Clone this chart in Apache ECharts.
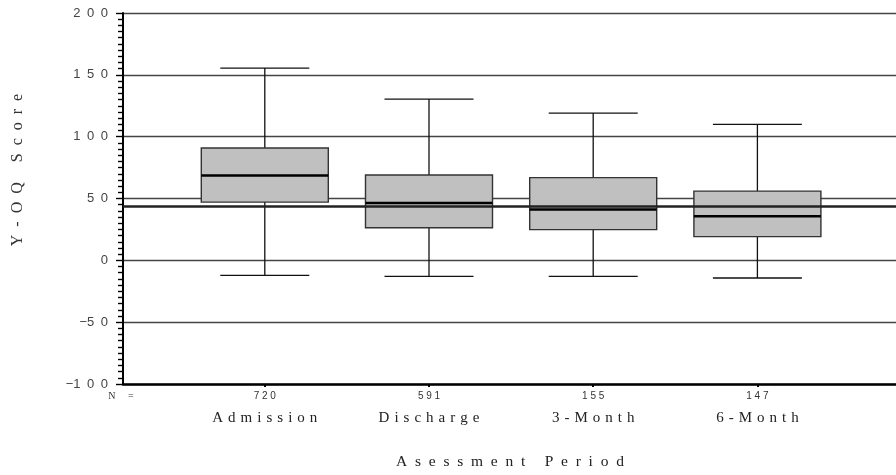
<!DOCTYPE html>
<html>
<head>
<meta charset="utf-8">
<script src="https://cdn.jsdelivr.net/npm/echarts@6/dist/echarts.min.js"></script>
<style>html,body{margin:0;padding:0;background:#fff}#chart{width:896px;height:475px}</style>
</head>
<body>
<div id="chart"></div>
<script>
// ---- data ----
const categories = ['Admission', 'Discharge', '3-Month', '6-Month'];
const nCounts = [720, 591, 155, 147];
const whiskerLow = [-12.1, -12.9, -12.9, -14.3];
const q1Values = [47.1, 26.4, 24.8, 19.2];
const medianValues = [68.5, 46.3, 41.2, 35.6];
const q3Values = [90.8, 69.0, 66.9, 56.0];
const whiskerHigh = [155.5, 130.4, 119.1, 110.0];
const referenceValue = 43.5;
const yTicks = [-100, -50, 0, 50, 100, 150, 200];
const yTitle = 'Y-OQ Score';
const xTitle = 'Asessment Period';
const nLabel = 'N =';

const spaced = (s, sep) => String(s).split('').join(sep);
const EN = '\u2002';
const THREE = '\u2004';

const boxData = categories.map((c, i) => [i, whiskerLow[i], q1Values[i], medianValues[i], q3Values[i], whiskerHigh[i]]);

const chart = echarts.init(document.getElementById('chart'), null, {renderer: 'canvas'});

function renderBox(params, api) {
  const x = api.value(0);
  const lo = api.coord([x, api.value(1)]);
  const q1 = api.coord([x, api.value(2)]);
  const med = api.coord([x, api.value(3)]);
  const q3 = api.coord([x, api.value(4)]);
  const hi = api.coord([x, api.value(5)]);
  const band = api.size([1, 0])[0];
  const bw = band * 0.7735;
  const cw = band * 0.542;
  const cx = lo[0];
  const lineStyle = {stroke: '#111', lineWidth: 1.3};
  return {
    type: 'group',
    children: [
      {type: 'line', shape: {x1: cx, y1: hi[1], x2: cx, y2: q3[1]}, style: lineStyle},
      {type: 'line', shape: {x1: cx, y1: q1[1], x2: cx, y2: lo[1]}, style: lineStyle},
      {type: 'line', shape: {x1: cx - cw / 2, y1: hi[1], x2: cx + cw / 2, y2: hi[1]}, style: lineStyle},
      {type: 'line', shape: {x1: cx - cw / 2, y1: lo[1], x2: cx + cw / 2, y2: lo[1]}, style: lineStyle},
      {type: 'rect', shape: {x: cx - bw / 2, y: q3[1], width: bw, height: q1[1] - q3[1]},
        style: {fill: '#c0c0c0', stroke: '#333', lineWidth: 1.4}},
      {type: 'line', shape: {x1: cx - bw / 2, y1: med[1], x2: cx + bw / 2, y2: med[1]},
        style: {stroke: '#000', lineWidth: 2.5}}
    ]
  };
}

const option = {
  animation: false,
  backgroundColor: '#fff',
  grid: [
    {left: 123, right: 0, top: 13, bottom: 91},
    {left: 182.7, right: 56.5, top: 13, bottom: 91}
  ],
  xAxis: [
    {type: 'value', gridIndex: 0, min: 0, max: 1,
      axisLine: {show: true, onZero: false, lineStyle: {color: '#000', width: 2.5}},
      axisTick: {show: false}, axisLabel: {show: false}, splitLine: {show: false}},
    {type: 'category', gridIndex: 1, data: categories, boundaryGap: true,
      axisLine: {show: false, onZero: false},
      axisTick: {show: true, alignWithLabel: true, length: 3, lineStyle: {color: '#000', width: 2}},
      axisLabel: {
        margin: 5,
        interval: 0,
        formatter: (v, i) => '{n|' + spaced(nCounts[i], ' ') + '}\n{c|' + spaced(v, THREE) + '}',
        rich: {
          n: {fontSize: 10, fontFamily: 'Liberation Sans', color: '#333', lineHeight: 14},
          c: {fontSize: 15, fontFamily: 'Liberation Serif', color: '#222', lineHeight: 30}
        }
      },
      splitLine: {show: false}}
  ],
  yAxis: [
    {type: 'value', gridIndex: 0, min: yTicks[0], max: yTicks[yTicks.length - 1], interval: 50,
      axisLine: {show: true, lineStyle: {color: '#000', width: 2}},
      axisTick: {show: true, length: 7, lineStyle: {color: '#000', width: 1.4}},
      minorTick: {show: true, splitNumber: 10, length: 5, lineStyle: {color: '#000', width: 1.4}},
      axisLabel: {
        margin: 15, fontSize: 13, fontFamily: 'Liberation Sans', color: '#444',
        formatter: v => (v < 0 ? '\u2212' : '') + spaced(Math.abs(v), EN)
      },
      splitLine: {show: true, lineStyle: {color: '#444', width: 1.3}}},
    {type: 'value', gridIndex: 1, min: yTicks[0], max: yTicks[yTicks.length - 1], interval: 50, show: false,
      splitLine: {show: false}}
  ],
  series: [
    {type: 'custom', xAxisIndex: 1, yAxisIndex: 1, z: 2, data: boxData, renderItem: renderBox,
      encode: {x: 0, y: [1, 2, 3, 4, 5]}},
    {type: 'line', xAxisIndex: 0, yAxisIndex: 0, z: 5, symbol: 'none', silent: true,
      data: [[0, referenceValue], [1, referenceValue]],
      lineStyle: {color: '#222', width: 2.5}}
  ],
  graphic: [
    {type: 'text', x: 18, y: 170, rotation: Math.PI / 2,
      style: {text: spaced(yTitle, EN), fontSize: 16, fontFamily: 'Liberation Serif', fill: '#333',
        textAlign: 'center', textVerticalAlign: 'middle'}},
    {type: 'text', x: 510, y: 462,
      style: {text: spaced(xTitle, EN), fontSize: 15.5, fontFamily: 'Liberation Serif', fill: '#222',
        textAlign: 'center', textVerticalAlign: 'middle'}},
    {type: 'text', x: 121, y: 396,
      style: {text: spaced(nLabel, EN), fontSize: 10, fontFamily: 'Liberation Serif', fill: '#333',
        textAlign: 'center', textVerticalAlign: 'middle'}}
  ]
};
chart.setOption(option);
</script>
</body>
</html>
